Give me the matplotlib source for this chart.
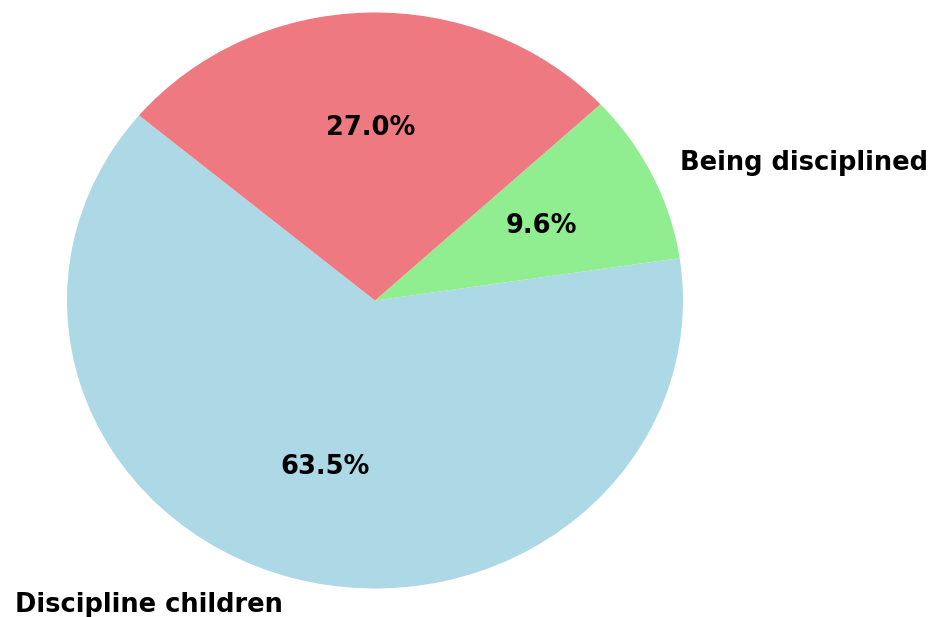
import matplotlib
matplotlib.use("Agg")
import matplotlib.pyplot as plt

categories = ["Discipline children", "Being disciplined", "Disciplining others"]
values = [63.46, 9.58, 26.96]
colors = ["#ADD8E6", "#90EE90", "#EE7981"]

fig = plt.figure(figsize=(9.34, 6.17), dpi=100)
ax = fig.add_axes([0, 0, 1, 1])
wedges, texts, autotexts = ax.pie(
    values, labels=categories, colors=colors, autopct="%1.1f%%",
    startangle=140, textprops={"fontsize": 18.5, "fontweight": "bold"})
# third label lies above the visible canvas in the reference
texts[2].set_visible(False)
ax.set_aspect("auto")
ax.set_xlim(-375 / 308, (934 - 375) / 308)
ax.set_ylim(-(617 - 300.5) / 288, 300.5 / 288)
ax.axis("off")
fig.savefig("out.png", dpi=100)
